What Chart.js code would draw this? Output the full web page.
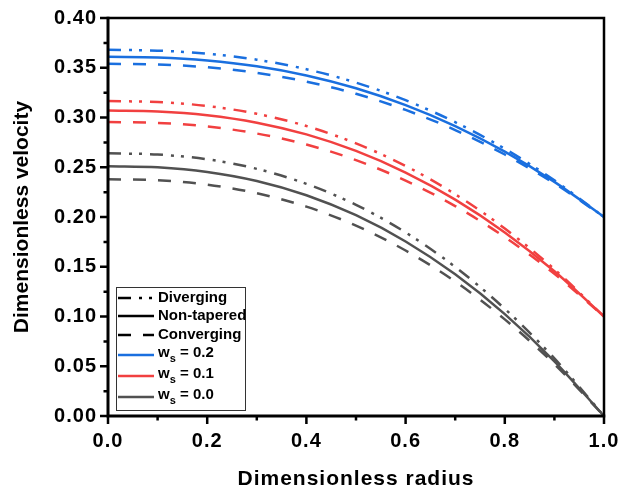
<!DOCTYPE html>
<html>
<head>
<meta charset="utf-8">
<script src="https://cdn.jsdelivr.net/npm/chart.js@4.4.0/dist/chart.umd.min.js"></script>
<style>
  html, body { margin: 0; padding: 0; background: #fff; }
  #wrap { width: 619px; height: 494px; }
</style>
</head>
<body>
<div id="wrap"><canvas id="velocityChart" width="619" height="494"></canvas></div>
<script>
// radius samples (x axis)
const radius = [0, 0.1, 0.2, 0.3, 0.4, 0.5, 0.6, 0.7, 0.8, 0.9, 1.0];

// w_s = 0.2 (blue)
const blueDiverging  = [0.368, 0.3672, 0.3642, 0.3581, 0.3485, 0.3351, 0.3174, 0.2953, 0.2686, 0.2368, 0.200];
const blueNonTapered = [0.361, 0.3603, 0.3573, 0.3515, 0.3423, 0.3294, 0.3125, 0.2914, 0.2657, 0.2353, 0.200];
const blueConverging = [0.354, 0.3533, 0.3505, 0.3449, 0.3361, 0.3238, 0.3076, 0.2874, 0.2628, 0.2338, 0.200];

// w_s = 0.1 (red)
const redDiverging  = [0.3165, 0.3155, 0.3116, 0.3037, 0.2914, 0.2740, 0.2513, 0.2229, 0.1884, 0.1475, 0.100];
const redNonTapered = [0.307, 0.3061, 0.3023, 0.2948, 0.2830, 0.2664, 0.2447, 0.2175, 0.1845, 0.1454, 0.100];
const redConverging = [0.2955, 0.2946, 0.2910, 0.2839, 0.2728, 0.2572, 0.2366, 0.2110, 0.1798, 0.1429, 0.100];

// w_s = 0.0 (gray)
const grayDiverging  = [0.264, 0.2628, 0.2580, 0.2484, 0.2333, 0.2122, 0.1845, 0.1498, 0.1077, 0.0579, 0];
const grayNonTapered = [0.251, 0.2499, 0.2453, 0.2362, 0.2219, 0.2018, 0.1754, 0.1424, 0.1024, 0.0550, 0];
const grayConverging = [0.238, 0.2369, 0.2326, 0.2239, 0.2104, 0.1913, 0.1663, 0.1351, 0.0971, 0.0522, 0];

// tick values
const xTicks = [0, 0.2, 0.4, 0.6, 0.8, 1.0];
const xMinorTicks = [0.1, 0.3, 0.5, 0.7, 0.9];
const yTicks = [0, 0.05, 0.10, 0.15, 0.20, 0.25, 0.30, 0.35, 0.40];
const yMinorTicks = [0.025, 0.075, 0.125, 0.175, 0.225, 0.275, 0.325, 0.375];

const BLUE = '#1A6FDF';
const RED = '#F14040';
const GRAY = '#515151';
const DASH_DIV = [13, 8, 3, 7, 3, 8];
const DASH_CONV = [13, 12];
const FONT = '"Liberation Sans", Arial, sans-serif';

const toPoints = (vals) => vals.map((v, i) => ({ x: radius[i], y: v }));

const makeSet = (label, vals, color, dash) => ({
  label: label,
  data: toPoints(vals),
  borderColor: color,
  borderWidth: 2.5,
  borderDash: dash,
  pointRadius: 0,
  cubicInterpolationMode: 'monotone',
  fill: false
});

const datasets = [
  makeSet('ws0.0 div', grayDiverging, GRAY, DASH_DIV),
  makeSet('ws0.0 non', grayNonTapered, GRAY, []),
  makeSet('ws0.0 conv', grayConverging, GRAY, DASH_CONV),
  makeSet('ws0.1 div', redDiverging, RED, DASH_DIV),
  makeSet('ws0.1 non', redNonTapered, RED, []),
  makeSet('ws0.1 conv', redConverging, RED, DASH_CONV),
  makeSet('ws0.2 div', blueDiverging, BLUE, DASH_DIV),
  makeSet('ws0.2 non', blueNonTapered, BLUE, []),
  makeSet('ws0.2 conv', blueConverging, BLUE, DASH_CONV)
];

// frame, major/minor ticks, y title and the custom legend
const framePlugin = {
  id: 'framePlugin',
  beforeDraw(chart) {
    // the original labels are a little wider than plain Arial
    chart.ctx.letterSpacing = '1px';
  },
  afterDraw(chart) {
    const { ctx, chartArea: a, scales: { x, y } } = chart;
    ctx.save();
    ctx.letterSpacing = '0px';
    ctx.strokeStyle = '#000';
    ctx.lineCap = 'butt';

    ctx.lineWidth = 2.5;
    ctx.beginPath();
    ctx.moveTo(a.left, a.top); ctx.lineTo(a.right, a.top); ctx.lineTo(a.right, a.bottom);
    ctx.stroke();

    ctx.lineWidth = 3;
    ctx.beginPath();
    ctx.moveTo(a.left, a.top - 1.25); ctx.lineTo(a.left, a.bottom); ctx.lineTo(a.right + 1.25, a.bottom);
    ctx.stroke();

    ctx.lineWidth = 2.5;
    ctx.beginPath();
    yTicks.forEach(v => { const py = y.getPixelForValue(v); ctx.moveTo(a.left, py); ctx.lineTo(a.left - 8, py); });
    yMinorTicks.forEach(v => { const py = y.getPixelForValue(v); ctx.moveTo(a.left, py); ctx.lineTo(a.left - 4.5, py); });
    xTicks.forEach(v => { const px = x.getPixelForValue(v); ctx.moveTo(px, a.bottom); ctx.lineTo(px, a.bottom + 8); });
    xMinorTicks.forEach(v => { const px = x.getPixelForValue(v); ctx.moveTo(px, a.bottom); ctx.lineTo(px, a.bottom + 4.5); });
    ctx.stroke();

    // y axis title
    ctx.save();
    ctx.translate(22, (a.top + a.bottom) / 2);
    ctx.rotate(-Math.PI / 2);
    ctx.fillStyle = '#000';
    ctx.font = 'bold 21px ' + FONT;
    ctx.textAlign = 'center';
    ctx.textBaseline = 'middle';
    ctx.fillText('Dimensionless velocity', 0, 0);
    ctx.restore();

    // legend box
    const bx = a.left + 8, by = a.bottom - 129, bw = 129, bh = 123;
    ctx.fillStyle = '#fff';
    ctx.fillRect(bx, by, bw, bh);
    ctx.lineWidth = 1;
    ctx.strokeStyle = '#333';
    ctx.strokeRect(bx + 0.5, by + 0.5, bw, bh);

    const items = [
      { text: 'Diverging', color: '#000', dash: DASH_DIV, y: 298 },
      { text: 'Non-tapered', color: '#000', dash: [], y: 316 },
      { text: 'Converging', color: '#000', dash: DASH_CONV, y: 335 },
      { ws: '0.2', color: BLUE, dash: [], y: 355 },
      { ws: '0.1', color: RED, dash: [], y: 376 },
      { ws: '0.0', color: GRAY, dash: [], y: 397 }
    ];
    const x0 = bx + 2, x1 = bx + 38, tx = bx + 42;
    items.forEach(it => {
      ctx.strokeStyle = it.color;
      ctx.lineWidth = 2.5;
      ctx.setLineDash(it.dash);
      ctx.beginPath();
      ctx.moveTo(x0, it.y); ctx.lineTo(x1, it.y);
      ctx.stroke();
      ctx.setLineDash([]);
      ctx.fillStyle = '#000';
      ctx.textBaseline = 'middle';
      ctx.textAlign = 'left';
      ctx.font = 'bold 15px ' + FONT;
      if (it.text) {
        ctx.fillText(it.text, tx, it.y);
      } else {
        ctx.fillText('w', tx, it.y - 2);
        const w1 = ctx.measureText('w').width;
        ctx.font = 'bold 11px ' + FONT;
        ctx.fillText('s', tx + w1, it.y + 4);
        const w2 = ctx.measureText('s').width;
        ctx.font = 'bold 15px ' + FONT;
        ctx.fillText(' = ' + it.ws, tx + w1 + w2, it.y - 2);
      }
    });
    ctx.restore();
  }
};

new Chart(document.getElementById('velocityChart'), {
  type: 'line',
  data: { datasets: datasets },
  plugins: [framePlugin],
  options: {
    responsive: false,
    animation: false,
    devicePixelRatio: 1,
    layout: { padding: { left: 0, right: 15, top: 18, bottom: 0 } },
    plugins: { legend: { display: false }, tooltip: { enabled: false } },
    scales: {
      x: {
        type: 'linear',
        min: 0,
        max: 1,
        afterBuildTicks: (scale) => { scale.ticks = xTicks.map(v => ({ value: v })); },
        afterFit: (scale) => { scale.height = 78; scale.paddingLeft = 0; scale.paddingRight = 0; },
        grid: { display: false, drawTicks: false },
        border: { display: false },
        ticks: {
          color: '#000',
          padding: 13,
          maxRotation: 0,
          font: { family: FONT, size: 20, weight: 'bold' },
          callback: (v) => Number(v).toFixed(1)
        },
        title: {
          display: true,
          text: 'Dimensionless radius',
          color: '#000',
          font: { family: FONT, size: 21, weight: 'bold' },
          padding: { top: 0, bottom: 2 }
        }
      },
      y: {
        type: 'linear',
        min: 0,
        max: 0.4,
        afterBuildTicks: (scale) => { scale.ticks = yTicks.map(v => ({ value: v })); },
        afterFit: (scale) => { scale.width = 108; scale.paddingTop = 0; scale.paddingBottom = 0; },
        grid: { display: false, drawTicks: false },
        border: { display: false },
        ticks: {
          color: '#000',
          padding: 11,
          font: { family: FONT, size: 20, weight: 'bold' },
          callback: (v) => Number(v).toFixed(2)
        },
        title: { display: false }
      }
    }
  }
});
</script>
</body>
</html>
